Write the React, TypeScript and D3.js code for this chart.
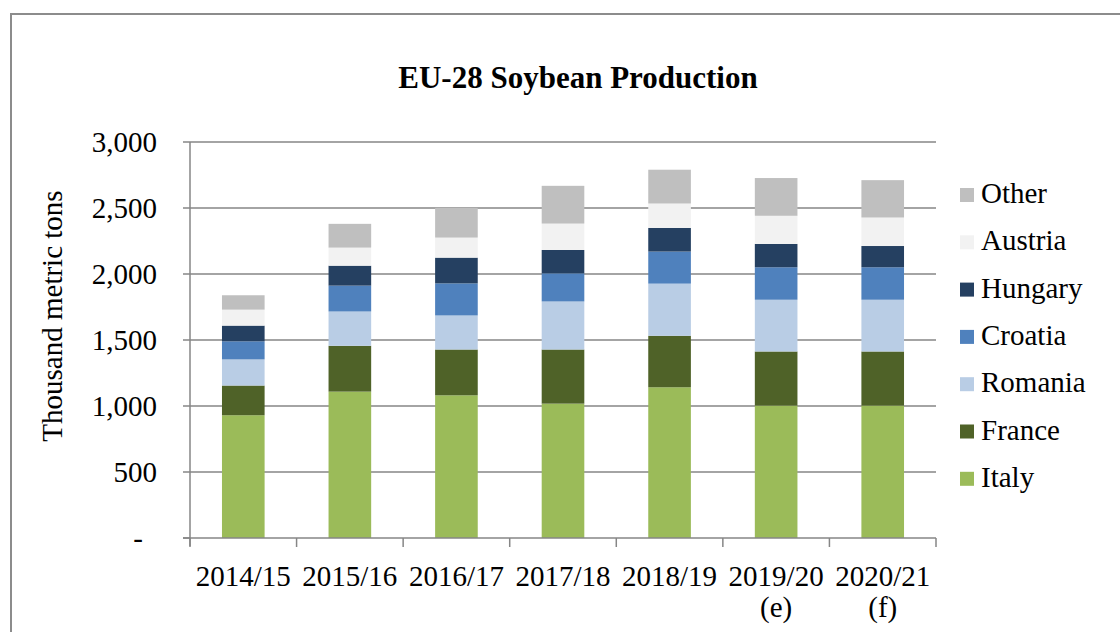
import React from 'react';
import * as d3 from 'd3';

const years = ['2014/15', '2015/16', '2016/17', '2017/18', '2018/19', '2019/20', '2020/21'];
const yearNotes = ['', '', '', '', '', '(e)', '(f)'];
const countries = ['Italy', 'France', 'Romania', 'Croatia', 'Hungary', 'Austria', 'Other'];
const colors = ['#9bbb59', '#4f6228', '#b9cde5', '#4f81bd', '#254061', '#f2f2f2', '#bfbfbf'];

const italy = [930, 1109, 1081, 1018, 1142, 1003, 1003];
const france = [225, 347, 347, 410, 390, 410, 410];
const romania = [198, 260, 258, 364, 395, 392, 392];
const croatia = [137, 196, 243, 213, 243, 246, 246];
const hungary = [119, 151, 195, 177, 179, 177, 161];
const austria = [121, 137, 152, 200, 185, 213, 216];
const other = [109, 180, 225, 286, 256, 286, 283];

const yTicks = [0, 500, 1000, 1500, 2000, 2500, 3000];

export default function App() {
  const W = 1120;
  const H = 632;
  const left = 190, right = 936, top = 142, bottom = 538;
  const font = '"Liberation Serif", "Times New Roman", serif';
  const fs = 29;

  const series = [italy, france, romania, croatia, hungary, austria, other];
  const rows = years.map((y, i) => {
    const r: any = { year: y };
    countries.forEach((c, k) => { r[c] = series[k][i]; });
    return r;
  });
  const stack = d3.stack().keys(countries)(rows);

  const x = d3.scaleBand().domain(years).range([left, right]).padding(0);
  const y = d3.scaleLinear().domain([0, 3000]).range([bottom, top]);
  const barW = x.bandwidth() * 0.4;
  const fmt = (v: number) => (v === 0 ? '-' : d3.format(',')(v));
  const boundaries = years.map((yr) => x(yr) as number).concat([right]);

  return (
    <svg width={W} height={H} style={{ position: 'absolute', left: 0, top: 0, background: '#fff' }} fontFamily={font}>
      <rect x={11} y={14} width={1200} height={700} fill="#fff" stroke="#8c8c8c" strokeWidth={2} />
      <text x={578} y={88} textAnchor="middle" fontSize={31} fontWeight="bold" fill="#000">
        EU-28 Soybean Production
      </text>

      {/* gridlines */}
      {yTicks.filter((t) => t > 0).map((t) => (
        <line key={t} x1={left} x2={right} y1={y(t)} y2={y(t)} stroke="#868686" strokeWidth={1.5} />
      ))}

      {/* bars */}
      {stack.map((layer, k) => (
        <g key={countries[k]} fill={colors[k]}>
          {layer.map((d, i) => (
            <rect
              key={i}
              x={(x(years[i]) as number) + (x.bandwidth() - barW) / 2}
              y={y(d[1])}
              width={barW}
              height={y(d[0]) - y(d[1])}
            />
          ))}
        </g>
      ))}

      {/* y axis */}
      <line x1={left} x2={left} y1={top} y2={bottom + 8} stroke="#868686" strokeWidth={1.5} />
      {yTicks.map((t) => (
        <g key={t}>
          <line x1={left - 7} x2={left} y1={y(t)} y2={y(t)} stroke="#868686" strokeWidth={1.5} />
          <text x={t === 0 ? 143 : 157} y={y(t) + 10} textAnchor="end" fontSize={fs} fill="#000">
            {fmt(t)}
          </text>
        </g>
      ))}
      <text transform={`translate(62,316) rotate(-90)`} textAnchor="middle" fontSize={fs} fill="#000">
        Thousand metric tons
      </text>

      {/* x axis */}
      <line x1={left - 7} x2={right} y1={bottom} y2={bottom} stroke="#868686" strokeWidth={1.5} />
      {boundaries.map((bx, i) => (
        <line key={i} x1={bx} x2={bx} y1={bottom} y2={bottom + 9} stroke="#868686" strokeWidth={1.5} />
      ))}
      {years.map((yr, i) => (
        <g key={yr}>
          <text x={(x(yr) as number) + x.bandwidth() / 2} y={586} textAnchor="middle" fontSize={fs} fill="#000">
            {yr}
          </text>
          {yearNotes[i] && (
            <text x={(x(yr) as number) + x.bandwidth() / 2} y={617} textAnchor="middle" fontSize={fs} fill="#000">
              {yearNotes[i]}
            </text>
          )}
        </g>
      ))}

      {/* legend */}
      {countries.slice().reverse().map((c, j) => {
        const k = countries.length - 1 - j;
        const cy = 195 + j * 47.3;
        return (
          <g key={c}>
            <rect x={960} y={cy - 7} width={14} height={14} fill={colors[k]} />
            <text x={981} y={cy + 8} fontSize={fs} fill="#000">{c}</text>
          </g>
        );
      })}
    </svg>
  );
}
